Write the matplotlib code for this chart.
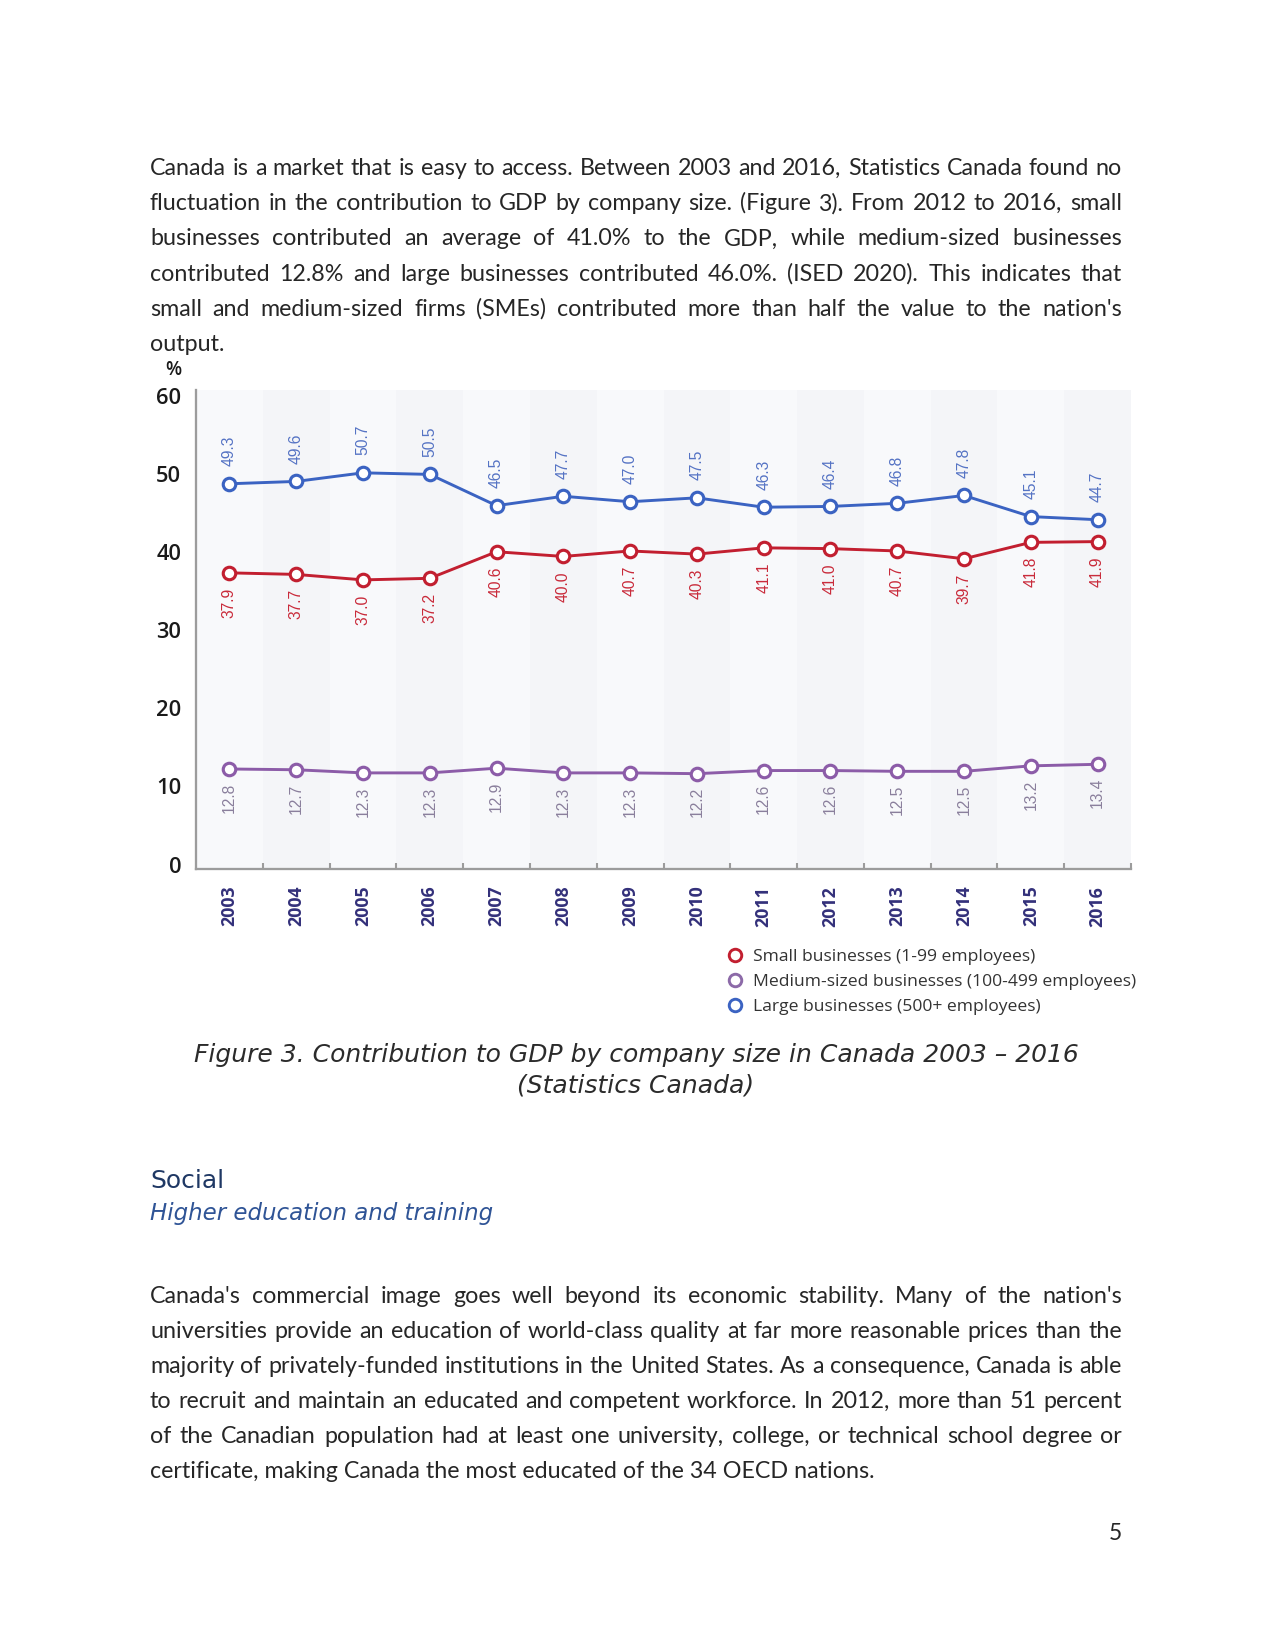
import matplotlib
matplotlib.use('Agg')
import matplotlib.pyplot as plt
from matplotlib.font_manager import FontProperties
from matplotlib.lines import Line2D
from matplotlib.transforms import ScaledTranslation

# ---------------- data ----------------
years = [2003, 2004, 2005, 2006, 2007, 2008, 2009, 2010, 2011, 2012, 2013, 2014, 2015, 2016]
small = [37.9, 37.7, 37.0, 37.2, 40.6, 40.0, 40.7, 40.3, 41.1, 41.0, 40.7, 39.7, 41.8, 41.9]
medium = [12.8, 12.7, 12.3, 12.3, 12.9, 12.3, 12.3, 12.2, 12.6, 12.6, 12.5, 12.5, 13.2, 13.4]
large = [49.3, 49.6, 50.7, 50.5, 46.5, 47.7, 47.0, 47.5, 46.3, 46.4, 46.8, 47.8, 45.1, 44.7]
yticks = [0, 10, 20, 30, 40, 50, 60]
series_names = ["Small businesses (1-99 employees)",
                "Medium-sized businesses (100-499 employees)",
                "Large businesses (500+ employees)"]

para1 = ["Canada is a market that is easy to access. Between 2003 and 2016, Statistics Canada found no",
         "fluctuation in the contribution to GDP by company size. (Figure 3). From 2012 to 2016, small",
         "businesses contributed an average of 41.0% to the GDP, while medium-sized businesses",
         "contributed 12.8% and large businesses contributed 46.0%. (ISED 2020). This indicates that",
         "small and medium-sized firms (SMEs) contributed more than half the value to the nation's",
         "output."]
para2 = ["Canada's commercial image goes well beyond its economic stability. Many of the nation's",
         "universities provide an education of world-class quality at far more reasonable prices than the",
         "majority of privately-funded institutions in the United States. As a consequence, Canada is able",
         "to recruit and maintain an educated and competent workforce. In 2012, more than 51 percent",
         "of the Canadian population had at least one university, college, or technical school degree or",
         "certificate, making Canada the most educated of the 34 OECD nations."]
caption = ["Figure 3. Contribution to GDP by company size in Canada 2003 \u2013 2016",
           "(Statistics Canada)"]

# ---------------- page ----------------
W, H = 1275, 1651
DPI = 150
fig = plt.figure(figsize=(W / DPI, H / DPI), dpi=DPI)
fig.patch.set_facecolor('white')
renderer = fig.canvas.get_renderer()


def fx(x):
    return x / W


def fy(y):
    return 1 - y / H


def tw(s, fp):
    w, h, d = renderer.get_text_width_height_descent(s, fp, ismath=False)
    return w


X0, X1 = 150, 1122
body_color = '#262626'
base_fp = FontProperties(family='Lato', size=12)
maxw = max(tw(l, base_fp) for l in para1[:-1] + para2[:-1])
body_size = min(12.0, 12.0 * (X1 - X0 - 6) / maxw)
body_fp = FontProperties(family='Lato', size=body_size)


def justified(lines, baselines):
    for i, (line, yb) in enumerate(zip(lines, baselines)):
        words = line.split(' ')
        if i == len(lines) - 1:
            fig.text(fx(X0), fy(yb), line, fontproperties=body_fp, color=body_color,
                     va='baseline', ha='left')
            continue
        widths = [tw(w, body_fp) for w in words]
        gap = (X1 - X0 - sum(widths)) / (len(words) - 1)
        x = X0
        for w, wd in zip(words, widths):
            fig.text(fx(x), fy(yb), w, fontproperties=body_fp, color=body_color,
                     va='baseline', ha='left')
            x += wd + gap


justified(para1, [175 + 35.2 * i for i in range(6)])
justified(para2, [1303 + 35 * i for i in range(6)])

# caption and headings
fig.text(fx(636), fy(1062), caption[0], ha='center', va='baseline', family='DejaVu Sans',
         style='italic', size=12, color='#2b2b2b')
fig.text(fx(636), fy(1093), caption[1], ha='center', va='baseline', family='DejaVu Sans',
         style='italic', size=12, color='#2b2b2b')
fig.text(fx(150), fy(1188), 'Social', ha='left', va='baseline', family='DejaVu Sans',
         size=12, color='#1f3864')
fig.text(fx(150), fy(1220), 'Higher education and training', ha='left', va='baseline',
         family='DejaVu Sans', style='italic', size=11, color='#2f5496')
fig.text(fx(1122), fy(1540), '5', ha='right', va='baseline', family='Lato', size=11,
         color=body_color)

# ---------------- chart ----------------
ax = fig.add_axes([fx(196), fy(869), 935 / W, 479 / H])
ax.set_xlim(2002.5, 2016.5)
ax.set_ylim(0, 61.3)
ax.set_facecolor('#f6f7fa')
for i, yv in enumerate(years):
    ax.axvspan(yv - 0.5, yv + 0.5, color='#f8f9fb' if i % 2 == 0 else '#f4f5f8',
               lw=0, zorder=0)

for s in ['top', 'right']:
    ax.spines[s].set_visible(False)
for s in ['left', 'bottom']:
    ax.spines[s].set_color('#9c9c9c')
    ax.spines[s].set_linewidth(1.1)

chart_font = 'Open Sans'
ax.set_yticks(yticks)
ax.set_yticklabels([str(v) for v in yticks], fontfamily=chart_font, fontweight='semibold',
                   fontsize=10.5, color='#1a1a1a')
ax.tick_params(axis='y', length=0, pad=7)
shift = ScaledTranslation(0, 4.5 / DPI, fig.dpi_scale_trans)
for lab in ax.get_yticklabels():
    lab.set_transform(lab.get_transform() + shift)
ax.set_xticks(years)
ax.set_xticklabels([str(v) for v in years], rotation=90, fontfamily=chart_font,
                   fontweight='bold', fontsize=8.5, color='#33307a')
ax.tick_params(axis='x', which='major', length=0, pad=8)
ax.set_xticks([yv + 0.5 for yv in years], minor=True)
ax.tick_params(axis='x', which='minor', direction='in', length=3, width=1, color='#9c9c9c')

fig.text(fx(173), fy(370), '%', ha='center', va='center', family=chart_font,
         fontweight='semibold', size=9, color='#1a1a1a')

specs = [
    (large, '#3b63c2', '#5573c4', 8.5, 'bottom'),
    (small, '#c21f30', '#c92a3a', -7.0, 'top'),
    (medium, '#8c5ca8', '#8a7f9c', -6.5, 'top'),
]
for vals, lc, tc, off, va in specs:
    ax.plot(years, vals, color=lc, lw=1.4, marker='o', ms=6, mfc='white', mec=lc,
            mew=1.5, zorder=3)
    for xv, v in zip(years, vals):
        ax.annotate(f'{v:.1f}', (xv, v), xytext=(0, off), textcoords='offset points',
                    rotation=90, ha='center', va=va, fontsize=7.5,
                    family='Liberation Sans', color=tc, zorder=4)

handles = [
    Line2D([], [], ls='none', marker='o', ms=6, mfc='white', mec='#c21f30', mew=1.4),
    Line2D([], [], ls='none', marker='o', ms=6, mfc='white', mec='#8c6aa8', mew=1.4),
    Line2D([], [], ls='none', marker='o', ms=6, mfc='white', mec='#3b63c2', mew=1.4),
]
leg = fig.legend(handles, series_names, loc='upper left', bbox_to_anchor=(fx(730), fy(949)),
                 frameon=False, prop=FontProperties(family=chart_font, size=8.4),
                 handlelength=0.6, handletextpad=0.7, labelspacing=0.5, borderpad=0,
                 borderaxespad=0)
for t in leg.get_texts():
    t.set_color('#333333')

fig.savefig('out.png', dpi=DPI, facecolor='white')
